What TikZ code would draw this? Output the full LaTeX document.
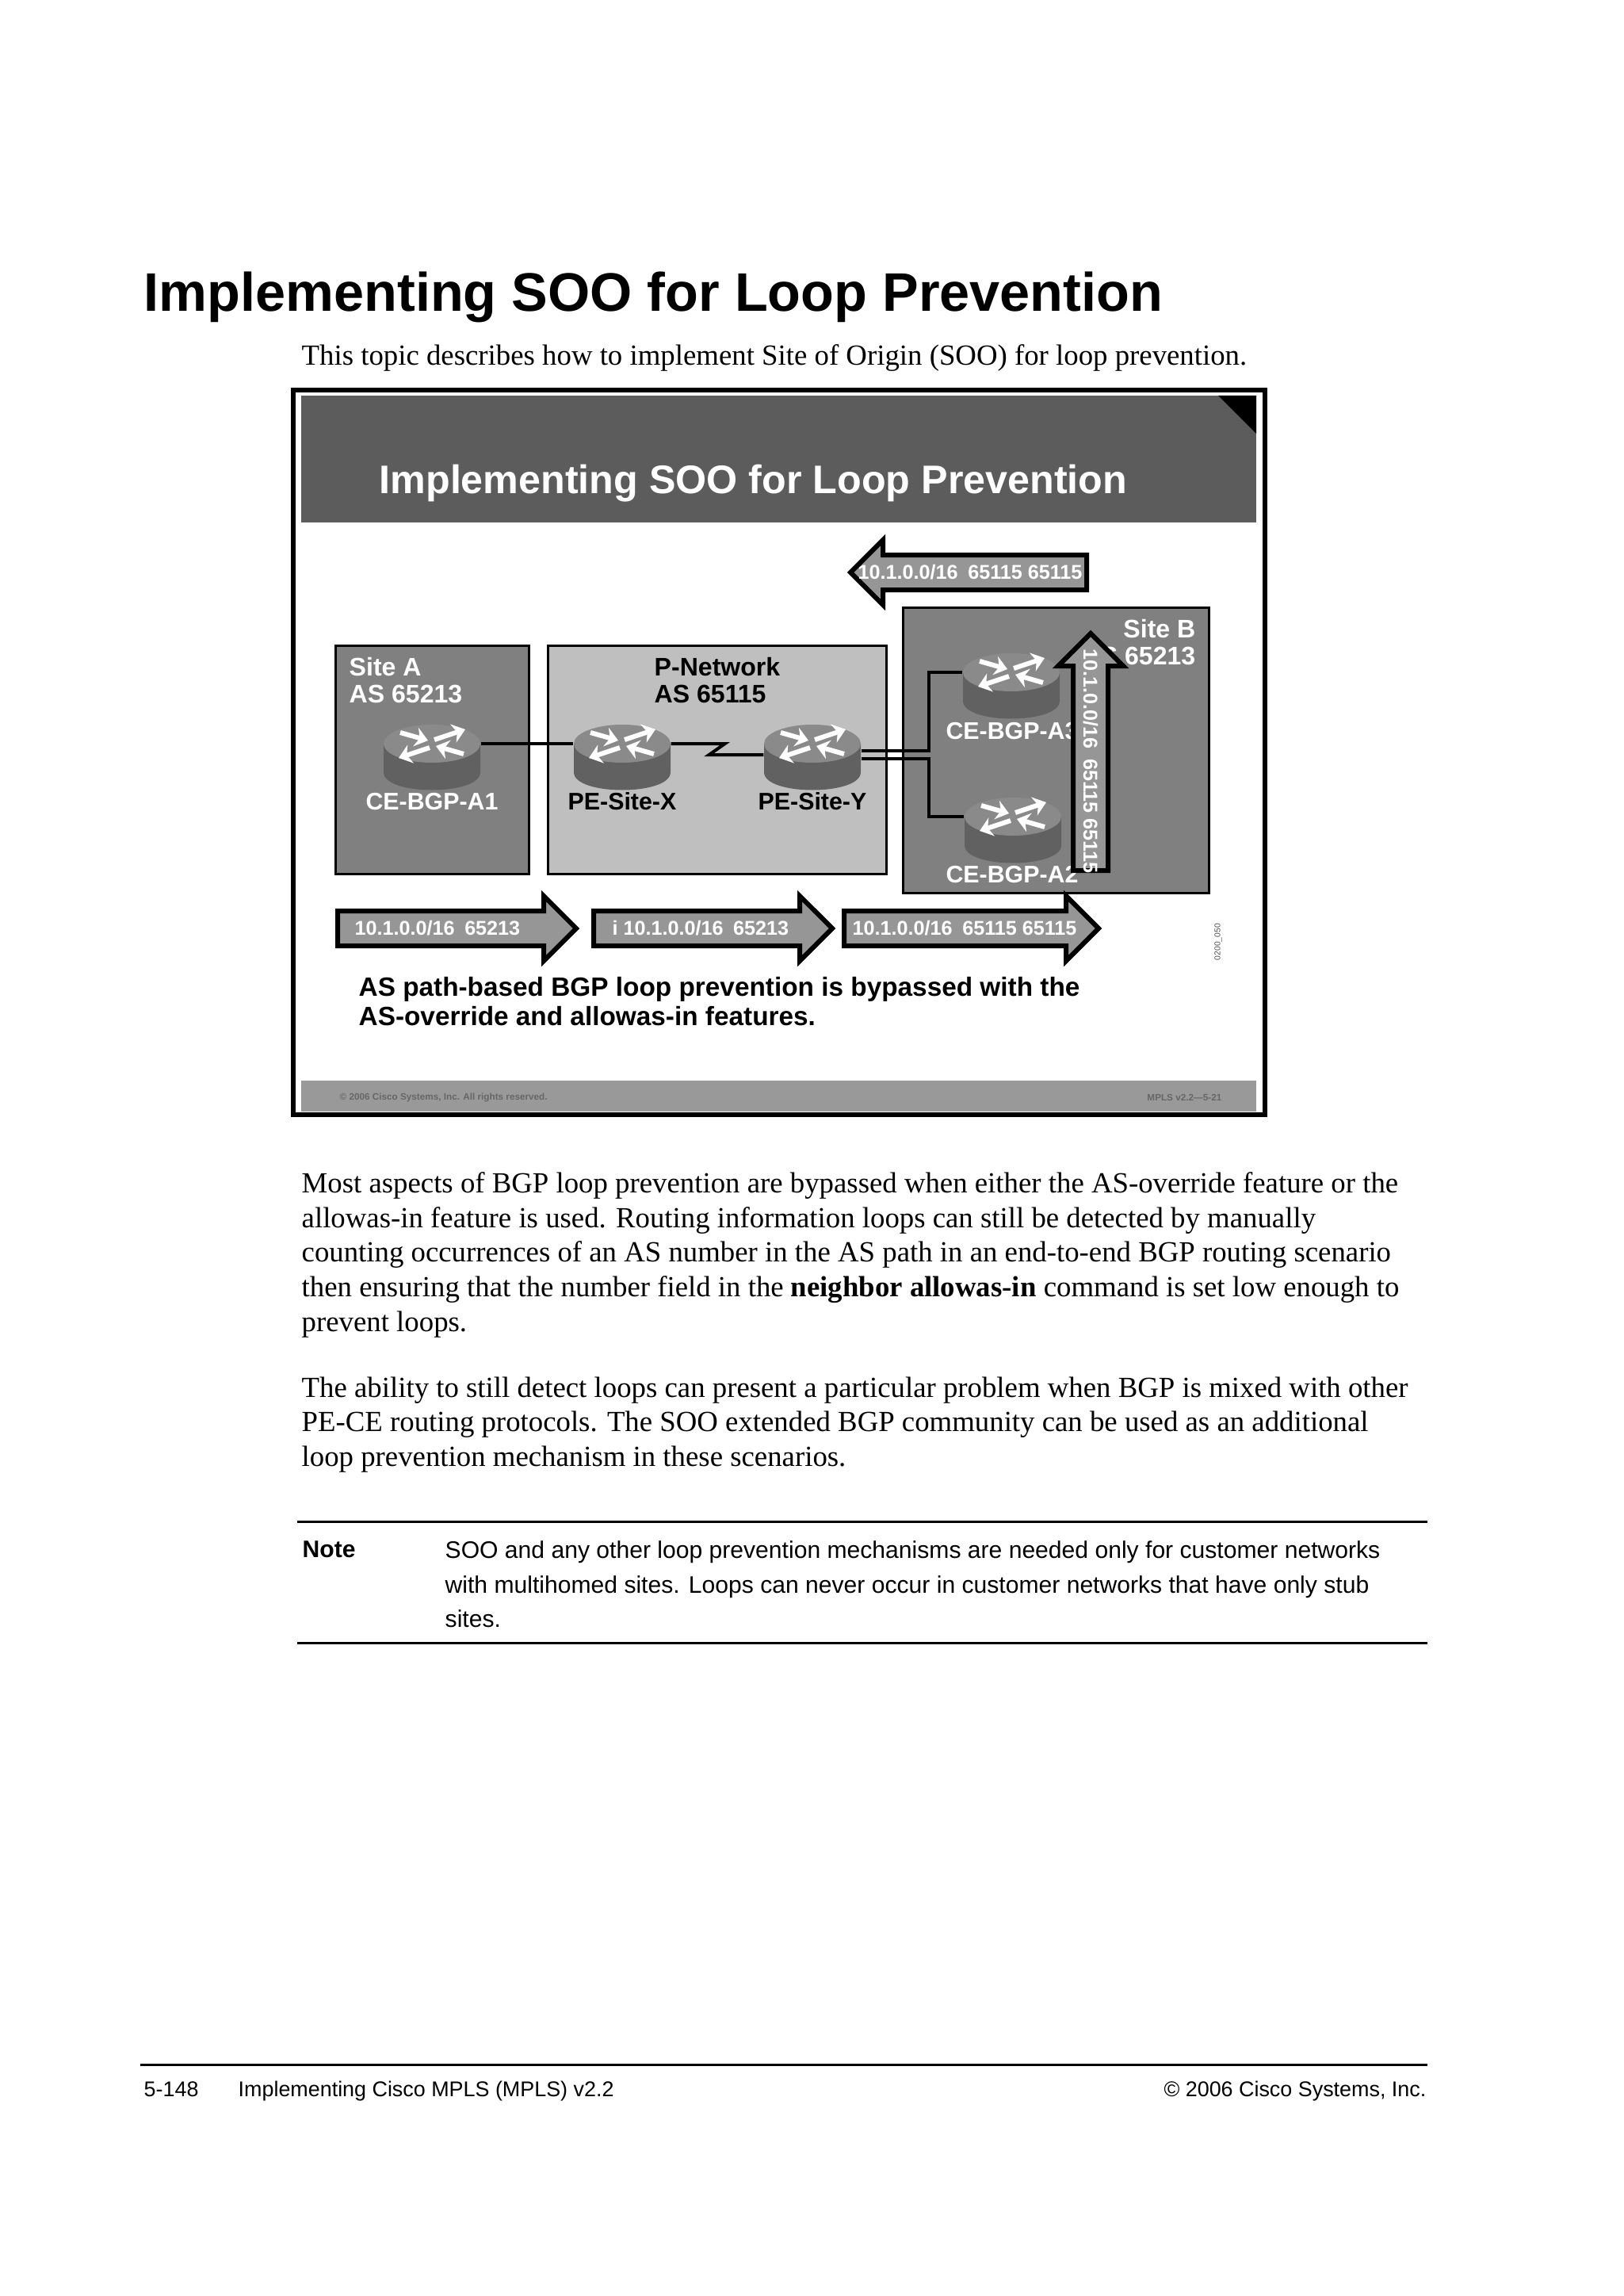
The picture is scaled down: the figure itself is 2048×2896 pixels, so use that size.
\documentclass[tikz,border=0pt]{standalone}
\usepackage{fontspec}
\setmainfont{Liberation Serif}
\setsansfont{Liberation Sans}
\usetikzlibrary{arrows.meta,positioning,shapes.geometric,shapes.arrows,calc}
\definecolor{headgray}{gray}{0.36}
\definecolor{sitegray}{gray}{0.50}
\definecolor{pnetgray}{gray}{0.75}
\definecolor{arrowgray}{gray}{0.59}
\definecolor{footgray}{gray}{0.60}
\definecolor{routertop}{gray}{0.54}
\definecolor{routerside}{gray}{0.38}
\tikzset{
  sitebox/.style={draw=black,line width=3*0.29pt,anchor=north west,inner sep=0,outer sep=0},
  sitelabel/.style={font=\fontsize{9.3}{9.6}\selectfont\sffamily\bfseries,align=left,inner sep=0},
  routertopshape/.style={ellipse,fill=routertop,minimum width=122*0.29pt,minimum height=48*0.29pt,inner sep=0},
  routerlabel/.style={font=\fontsize{8.8}{10}\selectfont\sffamily\bfseries,inner sep=0},
  flowarrow/.style={single arrow,draw=black,line width=6*0.29pt,fill=arrowgray,minimum width=76*0.29pt,
    single arrow head extend=19*0.29pt,single arrow tip angle=90,inner xsep=0,inner ysep=19*0.29pt,outer sep=0,anchor=tail},
  flowtext/.style={text=white,font=\fontsize{7.3}{8}\selectfont\sffamily\bfseries,inner sep=0,anchor=west},
  link/.style={line width=4*0.29pt,draw=black},
  routerarrow/.style={white,line width=6*0.29pt,-{Stealth[length=4.6pt,width=7pt]}},
  bodytext/.style={font=\fontsize{10.67}{12.65}\selectfont,align=left,anchor=north west,inner sep=0},
  sansnote/.style={font=\fontsize{8.73}{12.65}\selectfont\sffamily,align=left,anchor=north west,inner sep=0},
  rulebar/.style={line width=3*0.29pt},
  foottext/.style={font=\fontsize{3.4}{4}\selectfont\sffamily\bfseries,text=black!60,inner sep=0}
}
\newcommand{\routerat}[2]{%
  \fill[routerside] ($(#2)+(-61,0)$) -- ++(0,36) .. controls ($(#2)+(-61,66)$) and ($(#2)+(61,66)$) .. ($(#2)+(61,36)$) -- ($(#2)+(61,0)$) -- cycle;
  \node[routertopshape] (#1) at (#2) {};
  \draw[routerarrow] ($(#2)+(-40,-14)$) -- ($(#2)+(-5,-4)$);
  \draw[routerarrow] ($(#2)+(40,13)$) -- ($(#2)+(5,3)$);
  \draw[routerarrow] ($(#2)+(3,-5)$) -- ($(#2)+(42,-18)$);
  \draw[routerarrow] ($(#2)+(-3,5)$) -- ($(#2)+(-42,18)$);
}
\begin{document}
\begin{tikzpicture}[x=0.29pt,y=-0.29pt]
  \useasboundingbox (0,0) rectangle (2048,2896);
  \fill[white] (0,0) rectangle (2048,2896);

  % page heading
  \node[anchor=base west,inner sep=0,font=\fontsize{19.85}{22}\selectfont\sffamily\bfseries] (pagehead) at (181,393) {Implementing SOO for Loop Prevention};
  \node[anchor=base west,inner sep=0,font=\fontsize{10.67}{12.65}\selectfont] (topicline) at (380,461) {This topic describes how to implement Site of Origin (SOO) for loop prevention.};

  % slide
  \draw[line width=6*0.29pt] (370,492) rectangle (1596,1406);
  \fill[headgray] (380,499) rectangle (1585,659);
  \fill[black] (1537,499) -- (1585,499) -- (1585,547) -- cycle;
  \node[anchor=base west,inner sep=0,text=white,font=\fontsize{14.57}{16}\selectfont\sffamily\bfseries] (slidehead) at (478,623) {Implementing SOO for Loop Prevention};

  \node[sitebox,fill=sitegray,minimum width=244*0.29pt,minimum height=288*0.29pt] (siteA) at (423,814) {};
  \node[sitebox,fill=pnetgray,minimum width=427*0.29pt,minimum height=288*0.29pt] (pnet) at (691,814) {};
  \node[sitebox,fill=sitegray,minimum width=386*0.29pt,minimum height=360*0.29pt] (siteB) at (1139,766) {};

  \node[sitelabel,text=white,anchor=north west] (siteAtext) at (440,829) {Site A\\AS 65213};
  \node[sitelabel,anchor=north west] (pnettext) at (825,829) {P-Network\\AS 65115};
  \node[sitelabel,text=white,anchor=north east,align=right] (siteBtext) at (1509,781) {Site B\\AS 65213};

  \routerat{ceA}{545,938}
  \routerat{peX}{785,938}
  \routerat{peY}{1025,938}
  \routerat{ceC}{1276,848}
  \routerat{ceB}{1278,1030}

  \node[routerlabel,text=white] (ceAtext) at (545,1011) {CE-BGP-A1};
  \node[routerlabel] (peXtext) at (785,1011) {PE-Site-X};
  \node[routerlabel] (peYtext) at (1025,1011) {PE-Site-Y};
  \node[routerlabel,text=white] (ceCtext) at (1277,922) {CE-BGP-A3};
  \node[routerlabel,text=white] (ceBtext) at (1277,1103) {CE-BGP-A2};

  % links
  \coordinate (jointC) at ($(ceC.west)+(-42,0)$);
  \coordinate (jointB) at ($(ceB.west)+(-44,0)$);
  \coordinate (flashend) at ($(peY.west)+(0,14)$);
  \coordinate (outC) at ($(peY.east)+(0,9)$);
  \coordinate (outB) at ($(peY.east)+(0,19)$);
  \draw[link] (ceA.east) -- (peX.west);
  \draw[link] (peX.east) -- ++(68,0) -- ++(-20,14) -- (flashend);
  \draw[link] (outC) -| (jointC) -- (ceC.west);
  \draw[link] (outB) -| (jointB) -- (ceB.west);

  % arrows
  \node[flowarrow,minimum height=298*0.29pt,shape border rotate=180,anchor=tip] (arrowtop) at (1073,722) {};
  \node[flowtext] (arrowtoptext) at ($(arrowtop.tip)+(9,0)$) {10.1.0.0/16\enspace 65115 65115};
  \node[flowarrow,minimum height=299*0.29pt,rotate=-90,shape border rotate=180,anchor=tip] (arrowup) at (1376,799) {};
  \node[flowtext,rotate=-90] (arrowuptext) at ($(arrowup.tip)+(0,19)$) {10.1.0.0/16\enspace 65115 65115};
  \node[flowarrow,minimum height=301*0.29pt] (arrowone) at (426,1171) {};
  \node[flowtext] (arrowonetext) at ($(arrowone.tail)+(21,0)$) {10.1.0.0/16\enspace 65213};
  \node[flowarrow,minimum height=301*0.29pt] (arrowtwo) at (749,1171) {};
  \node[flowtext] (arrowtwotext) at ($(arrowtwo.tail)+(23,0)$) {i 10.1.0.0/16\enspace 65213};
  \node[flowarrow,minimum height=321*0.29pt] (arrowthree) at (1065,1171) {};
  \node[flowtext] (arrowthreetext) at ($(arrowthree.tail)+(10,0)$) {10.1.0.0/16\enspace 65115 65115};

  \node[anchor=center,rotate=90,inner sep=0,font=\fontsize{3}{3}\selectfont\sffamily,text=black!70] (figcode) at (1537,1188) {0200\_050};

  \node[anchor=north west,inner sep=0,align=left,font=\fontsize{9.67}{10.7}\selectfont\sffamily\bfseries] (slidenote) at (452,1232) {AS path-based BGP loop prevention is bypassed with the\\AS-override and allowas-in features.};

  \fill[footgray] (380,1363) rectangle (1585,1402);
  \node[foottext,anchor=west] (footleft) at (428,1384) {© 2006 Cisco Systems, Inc. All rights reserved.};
  \node[foottext,anchor=east] (footright) at (1542,1384) {MPLS v2.2—5-21};

  % body text
  \node[bodytext] (paraone) at (380,1478) {Most aspects of BGP loop prevention are bypassed when either the AS-override feature or the\\allowas-in feature is used. Routing information loops can still be detected by manually\\counting occurrences of an AS number in the AS path in an end-to-end BGP routing scenario\\then ensuring that the number field in the \textbf{neighbor allowas-in} command is set low enough to\\prevent loops.};
  \node[bodytext] (paratwo) at (380,1736) {The ability to still detect loops can present a particular problem when BGP is mixed with other\\PE-CE routing protocols. The SOO extended BGP community can be used as an additional\\loop prevention mechanism in these scenarios.};

  \draw[rulebar] (375,1919) -- (1801,1919);
  \node[sansnote,font=\fontsize{8.73}{12.65}\selectfont\sffamily\bfseries] (notehead) at (381,1943) {Note};
  \node[sansnote] (notetext) at (561,1943) {SOO and any other loop prevention mechanisms are needed only for customer networks\\with multihomed sites. Loops can never occur in customer networks that have only stub\\sites.};
  \draw[rulebar] (375,2072) -- (1801,2072);

  % page footer
  \draw[rulebar] (177,2604) -- (1801,2604);
  \node[anchor=base west,inner sep=0,font=\fontsize{7.8}{10}\selectfont\sffamily] (footpage) at (181,2644) {5-148};
  \node[anchor=base west,inner sep=0,font=\fontsize{7.8}{10}\selectfont\sffamily] (footbook) at (300,2644) {Implementing Cisco MPLS (MPLS) v2.2};
  \node[anchor=base east,inner sep=0,font=\fontsize{7.8}{10}\selectfont\sffamily] (footcopy) at (1800,2644) {© 2006 Cisco Systems, Inc.};
\end{tikzpicture}
\end{document}
